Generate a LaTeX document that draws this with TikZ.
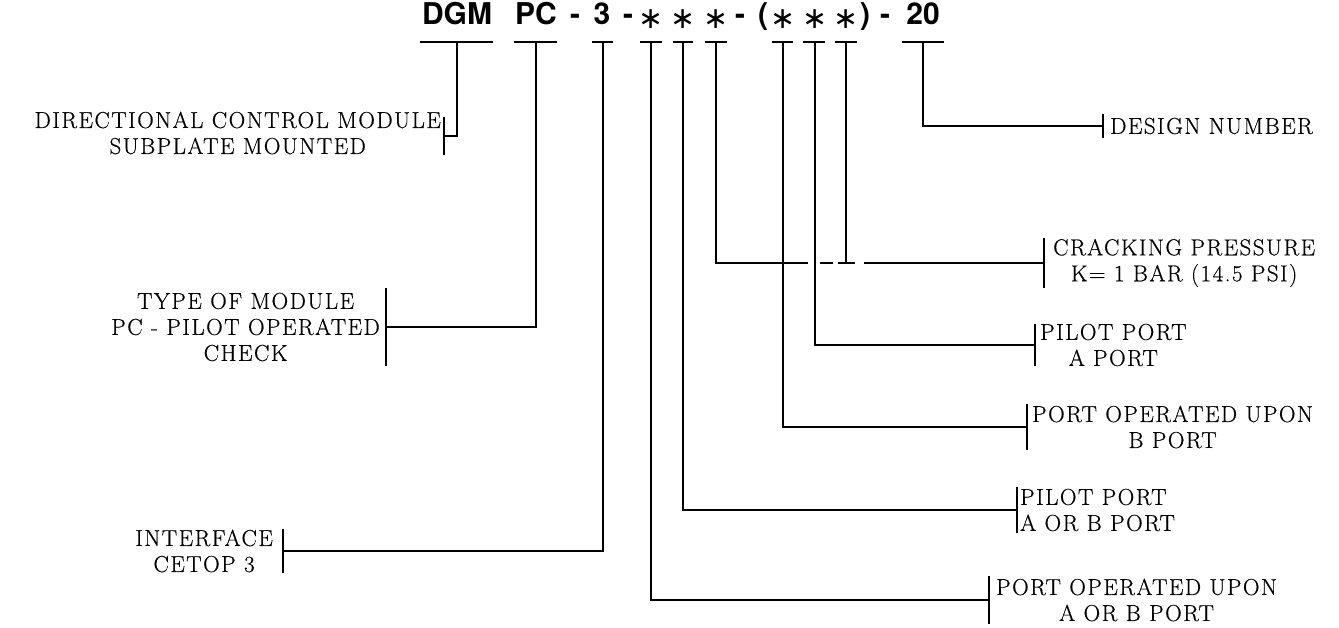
\documentclass[tikz,border=0pt]{standalone}
\usepackage{fontspec}
\setmainfont{Latin Modern Roman}[LetterSpace=6.5,FakeBold=0.5]
\newfontfamily\titlefont{TeX Gyre Heros}
\newfontfamily\astfont{DejaVu Sans}
\usetikzlibrary{calc}
\begin{document}
\begin{tikzpicture}[x=1pt,y=-1pt,
  tok/.style={inner sep=0pt, font=\titlefont\fontsize{30}{30}\selectfont\bfseries, anchor=base},
  astk/.style={inner sep=0pt, font=\astfont\fontsize{30}{30}\selectfont, anchor=center},
  uline/.style={line width=2.6pt},
  conn/.style={line width=2.3pt},
  barline/.style={line width=2.6pt},
  lbl/.style={inner sep=0pt, font=\fontsize{23}{26}\selectfont},
]
\useasboundingbox (0,0) rectangle (1339,628);
% title tokens
\node[tok] (tDGM) at (457,25) {DGM};
\node[tok] (tPC) at (536,25) {PC};
\node[tok] (h1) at (575,25) {-};
\node[tok] (t3) at (602,25) {3};
\node[tok] (h2) at (628,25) {-};
\node[astk] (a1) at (651,19.5) {∗};
\node[astk] (a2) at (683,19.5) {∗};
\node[astk] (a3) at (716,19.5) {∗};
\node[tok] (h3) at (740,25) {-};
\node[tok] (pl) at (763,25) {(};
\node[astk] (a4) at (783,19.5) {∗};
\node[astk] (a5) at (815,19.5) {∗};
\node[astk] (a6) at (846,19.5) {∗};
\node[tok] (pr) at (865,25) {)};
\node[tok] (h4) at (885,25) {-};
\node[tok] (t20) at (923,25) {20};
% underlines and their top points
\foreach \n/\xa/\xb/\xm in {DGM/420/493/457, PC/514/557/536, 3/592/613/603, a1/640/662/651, a2/673/693/683, a3/705/727/716, a4/772/793/783, a5/803/825/815, a6/835/857/846, 20/902/944/923}{
  \draw[uline] (\xa,42) -- (\xb,42);
  \coordinate (u\n) at (\xm,42);
}
% bar coordinates (junctions)
\coordinate (bDCM) at (444,136);
\coordinate (bPC) at (386,327);
\coordinate (bIF) at (283,551);
\coordinate (bDN) at (1103,126);
\coordinate (bCR) at (1044,263);
\coordinate (bPA) at (1035,345);
\coordinate (bBP) at (1027,427);
\coordinate (bPAB) at (1017,510);
\coordinate (bAB) at (989,600);
% labels
\node[lbl, align=center, anchor=east] (lDCM) at ([xshift=-3,yshift=3]bDCM) {DIRECTIONAL CONTROL MODULE\\SUBPLATE MOUNTED};
\node[lbl, align=center, anchor=east] (lPC) at ([xshift=-6]bPC) {TYPE OF MODULE\\PC - PILOT OPERATED\\CHECK};
\node[lbl, align=center, anchor=east] (lIF) at ([xshift=-10]bIF) {INTERFACE\\CETOP 3};
\node[lbl, anchor=west] (lDN) at ([xshift=7]bDN) {DESIGN NUMBER};
\node[lbl, align=center, anchor=west] (lCR) at ([xshift=9]bCR) {CRACKING PRESSURE\\K= 1 BAR (14.5 PSI)};
\node[lbl, align=center, anchor=west] (lPA) at ([xshift=5]bPA) {PILOT PORT\\A PORT};
\node[lbl, align=center, anchor=west] (lBP) at ([xshift=5]bBP) {PORT OPERATED UPON\\B PORT};
\node[lbl, align=left, anchor=west] (lPAB) at ([xshift=3]bPAB) {PILOT PORT\\A OR B PORT};
\node[lbl, align=center, anchor=west] (lAB) at ([xshift=7]bAB) {PORT OPERATED UPON\\A OR B PORT};
% bars
\draw[barline] ($(bDCM)+(0,-19)$) -- ($(bDCM)+(0,19)$);
\draw[barline] ($(bPC)+(0,-39)$) -- ($(bPC)+(0,39)$);
\draw[barline] ($(bIF)+(0,-22)$) -- ($(bIF)+(0,22)$);
\draw[barline] ($(bDN)+(0,-12)$) -- ($(bDN)+(0,12)$);
\draw[barline] ($(bCR)+(0,-25)$) -- ($(bCR)+(0,25)$);
\draw[barline] ($(bPA)+(0,-21)$) -- ($(bPA)+(0,21)$);
\draw[barline] ($(bBP)+(0,-23)$) -- ($(bBP)+(0,23)$);
\draw[barline] ($(bPAB)+(0,-23)$) -- ($(bPAB)+(0,23)$);
\draw[barline] ($(bAB)+(0,-24)$) -- ($(bAB)+(0,24)$);
% connectors
\draw[conn] (uDGM) |- (bDCM);
\draw[conn] (uPC) |- (bPC);
\draw[conn] (u3) |- (bIF);
\draw[conn] (u20) |- (bDN);
\draw[conn] (ua1) |- (bAB);
\draw[conn] (ua2) |- (bPAB);
\draw[conn] (ua4) |- (bBP);
\draw[conn] (ua5) |- (bPA);
\draw[conn] (ua6) -- (ua6 |- bCR);
% cracking pressure line with breaks
\coordinate (c1) at (808,263);
\coordinate (c2) at (820,263);
\coordinate (c3) at (833,263);
\coordinate (c4) at (838,263);
\coordinate (c5) at (855,263);
\coordinate (c6) at (864,263);
\draw[conn] (ua3) |- (c1);
\draw[conn] (c2) -- (c3);
\draw[conn] (c4) -- (c5);
\draw[conn] (c6) -- (bCR);
\end{tikzpicture}
\end{document}
